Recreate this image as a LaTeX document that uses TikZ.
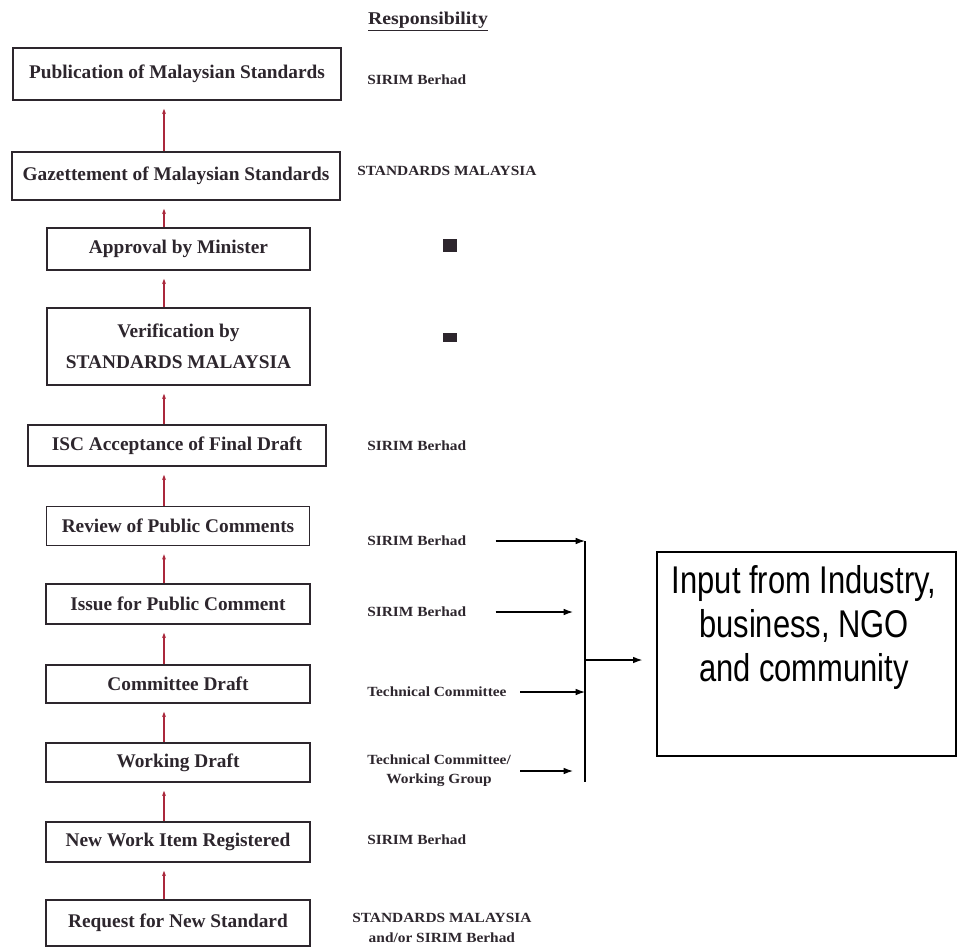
\documentclass[tikz,border=0pt]{standalone}
\usepackage{fontspec}
\setmainfont{Liberation Serif}
\newfontfamily\respfont[FakeStretch=1.1]{Liberation Serif}
\newfontfamily\inputfont[FakeStretch=0.8]{Liberation Sans}
\usetikzlibrary{arrows.meta}

\definecolor{arrowred}{RGB}{170,40,60}
\definecolor{inkgray}{RGB}{45,38,45}

\begin{document}
\begin{tikzpicture}[x=0.75pt,y=-0.75pt,
  stage/.style={draw=inkgray,line width=1.2pt,text=inkgray,align=center,inner sep=0pt,
    font=\bfseries\fontsize{14.5}{23}\selectfont},
  resp/.style={anchor=west,text=inkgray,inner sep=0pt,font=\respfont\bfseries\fontsize{10.5}{14.5}\selectfont},
  uparrow/.style={arrowred,line width=1pt,shorten >=6pt,-{Stealth[length=4pt,width=3pt]}},
  feed/.style={line width=0.9pt,-{Latex[length=7pt,width=5pt]}}]
\useasboundingbox (0,0) rectangle (957,951);

% stages
\node[stage,minimum width=246pt,minimum height=39pt] (pub) at (177,74) {Publication of Malaysian Standards};
\node[stage,minimum width=246pt,minimum height=36pt] (gaz) at (176,176) {Gazettement of Malaysian Standards};
\node[stage,minimum width=197.25pt,minimum height=31.5pt] (appr) at (178.5,249) {Approval by Minister};
\node[stage,minimum width=197.25pt,minimum height=57.75pt] (verif) at (178.5,346.5) {Verification by\\STANDARDS MALAYSIA};
\node[stage,minimum width=223.5pt,minimum height=30.75pt] (isc) at (177,445.5) {ISC Acceptance of Final Draft};
\node[stage,minimum width=197pt,minimum height=29.25pt] (review) at (178,526) {Review of Public Comments};
\node[stage,minimum width=198pt,minimum height=30pt] (issue) at (178,604) {Issue for Public Comment};
\node[stage,minimum width=198pt,minimum height=28.5pt] (cd) at (178,684) {Committee Draft};
\node[stage,minimum width=198pt,minimum height=29.25pt] (wd) at (178,762.5) {Working Draft};
\node[stage,minimum width=198pt,minimum height=30pt] (nwi) at (178,842) {New Work Item Registered};
\node[stage,minimum width=198pt,minimum height=34.5pt] (req) at (178,923) {Request for New Standard};

% upward flow
\coordinate (flow) at (164,0);
\draw[uparrow] (gaz.north -| flow) -- (pub.south -| flow);
\draw[uparrow] (appr.north -| flow) -- (gaz.south -| flow);
\draw[uparrow] (verif.north -| flow) -- (appr.south -| flow);
\draw[uparrow] (isc.north -| flow) -- (verif.south -| flow);
\draw[uparrow] (review.north -| flow) -- (isc.south -| flow);
\draw[uparrow] (issue.north -| flow) -- (review.south -| flow);
\draw[uparrow] (cd.north -| flow) -- (issue.south -| flow);
\draw[uparrow] (wd.north -| flow) -- (cd.south -| flow);
\draw[uparrow] (nwi.north -| flow) -- (wd.south -| flow);
\draw[uparrow] (req.north -| flow) -- (nwi.south -| flow);

% responsibility column
\node[text=inkgray,font=\respfont\bfseries\fontsize{13.5}{15}\selectfont] (head) at (428,22) {\underline{Responsibility}};
\node[resp] (r-pub) at (367,80) {SIRIM Berhad};
\node[resp] (r-gaz) at (357,171) {STANDARDS MALAYSIA};
\fill[inkgray] (443,239) rectangle (457,252);
\fill[inkgray] (443,333) rectangle (457,342);
\node[resp] (r-isc) at (367,446) {SIRIM Berhad};
\node[resp] (r-review) at (367,541) {SIRIM Berhad};
\node[resp] (r-issue) at (367,612) {SIRIM Berhad};
\node[resp] (r-cd) at (367,692) {Technical Committee};
\node[resp,align=center] (r-wd) at (367,771) {Technical Committee/\\Working Group};
\node[resp] (r-nwi) at (367,840) {SIRIM Berhad};
\node[resp,align=center] (r-req) at (352,928) {STANDARDS MALAYSIA\\and/or SIRIM Berhad};

% input from outside
\node[draw,line width=1pt,minimum width=224.25pt,minimum height=153pt] (input) at (806.5,654) {};
\node[font=\inputfont\fontsize{29}{33}\selectfont,align=center] (input-text) at (804,627) {Input from Industry,\\business, NGO\\and community};

\coordinate (bustop) at (585,541);
\coordinate (busbot) at (585,782);
\coordinate (busmid) at (585,660);
\draw[line width=0.9pt] (bustop) -- (busbot);
\draw[feed,shorten <=22pt] (r-review.east) -- (r-review.east -| bustop);
\draw[feed,shorten <=22pt,shorten >=9pt] (r-issue.east) -- (r-issue.east -| bustop);
\draw[feed,shorten <=10pt] (r-cd.east) -- (r-cd.east -| bustop);
\draw[feed,shorten <=7pt,shorten >=9pt] (r-wd.east) -- (r-wd.east -| bustop);
\draw[feed,shorten >=10.5pt] (busmid) -- (input.west |- busmid);
\end{tikzpicture}
\end{document}
